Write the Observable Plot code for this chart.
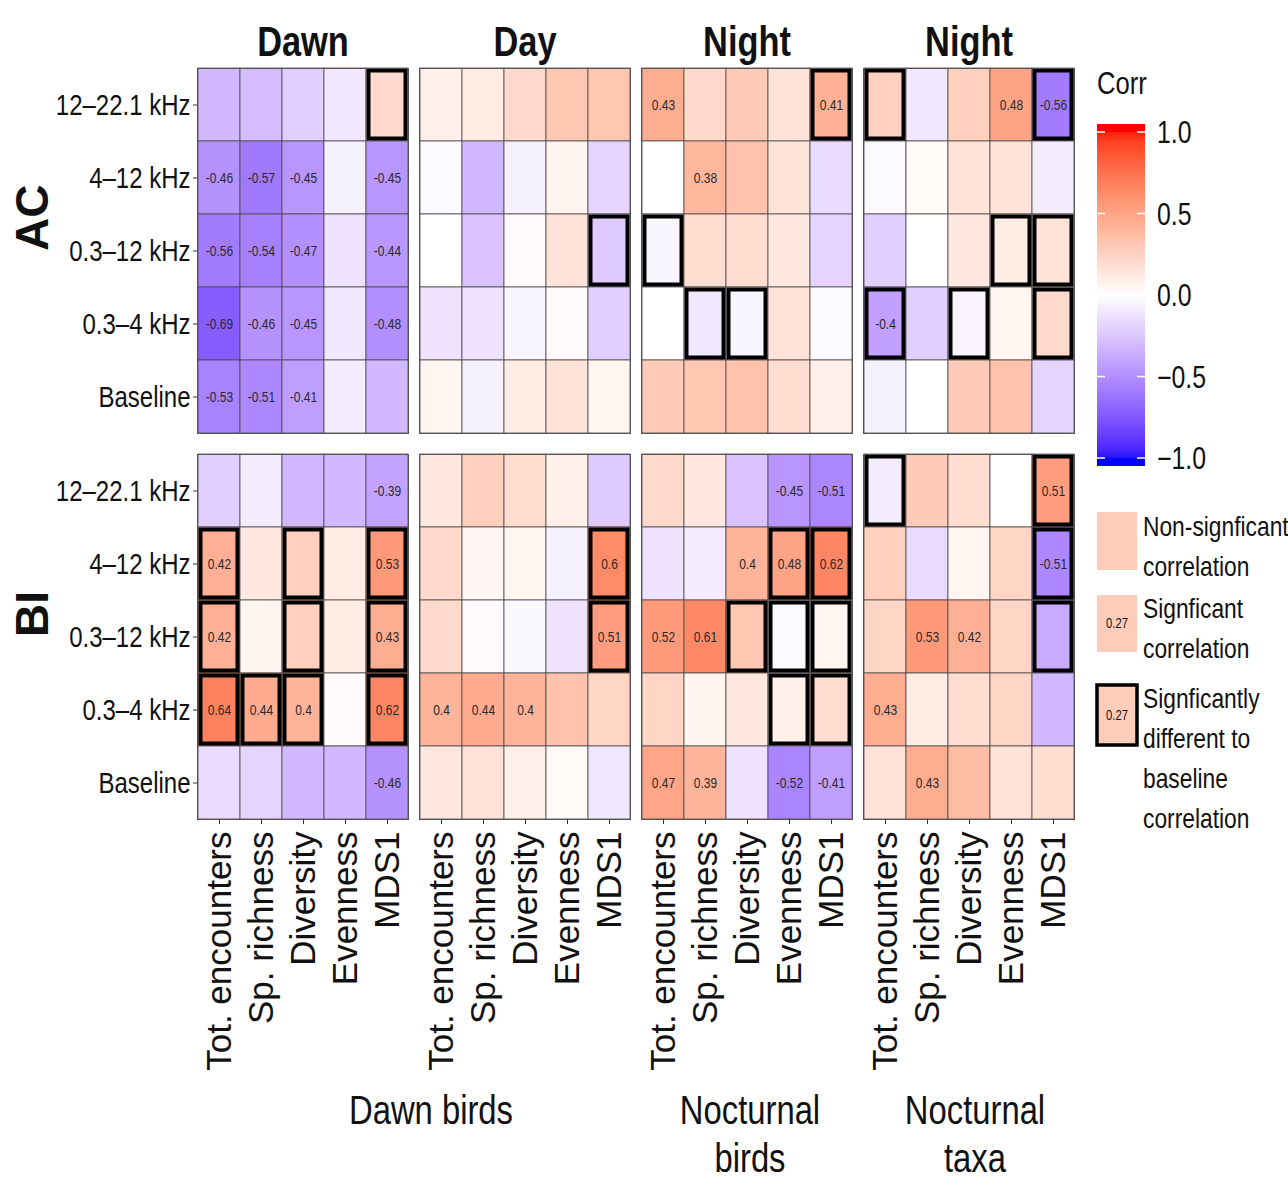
<!DOCTYPE html>
<html><head><meta charset="utf-8">
<script src="https://cdn.jsdelivr.net/npm/d3@7"></script>
<script src="https://cdn.jsdelivr.net/npm/@observablehq/plot@0.6"></script>
<style>
body{margin:0;background:#fff}
#root{position:relative;width:1288px;height:1187px;overflow:hidden;background:#fff}
#root svg{position:absolute;left:0;top:0}
</style></head><body><div id="root"></div>
<script>
const FONT = '"Liberation Sans",Arial,Helvetica,sans-serif';

// ---- categories ----
const panels = ["dawn", "day", "nightBirds", "nightTaxa"];
const panelTitles = ["Dawn", "Day", "Night", "Night"];
const indices = ["AC", "BI"];
const metrics = ["Tot. encounters", "Sp. richness", "Diversity", "Evenness", "MDS1"];
const bands = ["12–22.1 kHz", "4–12 kHz", "0.3–12 kHz", "0.3–4 kHz", "Baseline"];
const groupLabels = [["Dawn birds"], ["Nocturnal", "birds"], ["Nocturnal", "taxa"]];
const legendTicks = [1.0, 0.5, 0.0, -0.5, -1.0];
const legendExample = 0.27;

// ---- values: rows = bands, columns = metrics ----
const acDawn = [
  [-0.30, -0.28, -0.20, -0.10, 0.20],
  [-0.46, -0.57, -0.45, -0.06, -0.45],
  [-0.56, -0.54, -0.47, -0.12, -0.44],
  [-0.69, -0.46, -0.45, -0.10, -0.48],
  [-0.53, -0.51, -0.41, -0.08, -0.30]];
const acDay = [
  [0.08, 0.10, 0.20, 0.30, 0.30],
  [-0.02, -0.30, -0.06, 0.06, -0.18],
  [0.00, -0.25, 0.02, 0.15, -0.22],
  [-0.12, -0.12, -0.04, 0.02, -0.20],
  [0.05, -0.06, 0.10, 0.15, 0.05]];
const acNightBirds = [
  [0.43, 0.20, 0.28, 0.15, 0.41],
  [0.00, 0.38, 0.32, 0.15, -0.15],
  [-0.04, 0.18, 0.18, 0.12, -0.18],
  [0.00, -0.10, -0.04, 0.15, -0.02],
  [0.28, 0.30, 0.32, 0.18, 0.08]];
const acNightTaxa = [
  [0.25, -0.10, 0.25, 0.48, -0.56],
  [-0.02, 0.03, 0.15, 0.15, -0.08],
  [-0.20, 0.00, 0.12, 0.10, 0.15],
  [-0.40, -0.20, -0.05, 0.05, 0.20],
  [-0.06, 0.00, 0.28, 0.32, -0.18]];
const biDawn = [
  [-0.20, -0.08, -0.30, -0.30, -0.39],
  [0.42, 0.12, 0.25, 0.10, 0.53],
  [0.42, 0.06, 0.25, 0.10, 0.43],
  [0.64, 0.44, 0.40, 0.02, 0.62],
  [-0.15, -0.18, -0.30, -0.30, -0.46]];
const biDay = [
  [0.12, 0.25, 0.18, 0.08, -0.22],
  [0.20, 0.04, 0.05, -0.06, 0.60],
  [0.20, 0.02, -0.03, -0.12, 0.51],
  [0.40, 0.44, 0.40, 0.32, 0.22],
  [0.12, 0.15, 0.08, 0.03, -0.10]];
const biNightBirds = [
  [0.20, 0.12, -0.25, -0.45, -0.51],
  [-0.12, -0.08, 0.40, 0.48, 0.62],
  [0.52, 0.61, 0.30, -0.02, 0.05],
  [0.22, 0.06, 0.12, 0.08, 0.18],
  [0.47, 0.39, -0.12, -0.52, -0.41]];
const biNightTaxa = [
  [-0.08, 0.28, 0.18, 0.00, 0.51],
  [0.25, -0.15, 0.05, 0.22, -0.51],
  [0.22, 0.53, 0.42, 0.22, -0.35],
  [0.43, 0.10, 0.18, 0.22, -0.30],
  [0.15, 0.43, 0.35, 0.15, 0.18]];

// ---- significant correlation (value printed) ----
const acDawnSig = [[0,0,0,0,0],[1,1,1,0,1],[1,1,1,0,1],[1,1,1,0,1],[1,1,1,0,0]];
const acDaySig = [[0,0,0,0,0],[0,0,0,0,0],[0,0,0,0,0],[0,0,0,0,0],[0,0,0,0,0]];
const acNightBirdsSig = [[1,0,0,0,1],[0,1,0,0,0],[0,0,0,0,0],[0,0,0,0,0],[0,0,0,0,0]];
const acNightTaxaSig = [[0,0,0,1,1],[0,0,0,0,0],[0,0,0,0,0],[1,0,0,0,0],[0,0,0,0,0]];
const biDawnSig = [[0,0,0,0,1],[1,0,0,0,1],[1,0,0,0,1],[1,1,1,0,1],[0,0,0,0,1]];
const biDaySig = [[0,0,0,0,0],[0,0,0,0,1],[0,0,0,0,1],[1,1,1,0,0],[0,0,0,0,0]];
const biNightBirdsSig = [[0,0,0,1,1],[0,0,1,1,1],[1,1,0,0,0],[0,0,0,0,0],[1,1,0,1,1]];
const biNightTaxaSig = [[0,0,0,0,1],[0,0,0,0,1],[0,1,1,0,0],[1,0,0,0,0],[0,1,0,0,0]];

// ---- significantly different to baseline (bold outline) ----
const acDawnDiff = [[0,0,0,0,1],[0,0,0,0,0],[0,0,0,0,0],[0,0,0,0,0],[0,0,0,0,0]];
const acDayDiff = [[0,0,0,0,0],[0,0,0,0,0],[0,0,0,0,1],[0,0,0,0,0],[0,0,0,0,0]];
const acNightBirdsDiff = [[0,0,0,0,1],[0,0,0,0,0],[1,0,0,0,0],[0,1,1,0,0],[0,0,0,0,0]];
const acNightTaxaDiff = [[1,0,0,0,1],[0,0,0,0,0],[0,0,0,1,1],[1,0,1,0,1],[0,0,0,0,0]];
const biDawnDiff = [[0,0,0,0,0],[1,0,1,0,1],[1,0,1,0,1],[1,1,1,0,1],[0,0,0,0,0]];
const biDayDiff = [[0,0,0,0,0],[0,0,0,0,1],[0,0,0,0,1],[0,0,0,0,0],[0,0,0,0,0]];
const biNightBirdsDiff = [[0,0,0,0,0],[0,0,0,1,1],[0,0,1,1,1],[0,0,0,1,1],[0,0,0,0,0]];
const biNightTaxaDiff = [[1,0,0,0,1],[0,0,0,0,1],[0,0,0,0,1],[0,0,0,0,0],[0,0,0,0,0]];

const source = {
  AC: {dawn: [acDawn, acDawnSig, acDawnDiff], day: [acDay, acDaySig, acDayDiff],
       nightBirds: [acNightBirds, acNightBirdsSig, acNightBirdsDiff], nightTaxa: [acNightTaxa, acNightTaxaSig, acNightTaxaDiff]},
  BI: {dawn: [biDawn, biDawnSig, biDawnDiff], day: [biDay, biDaySig, biDayDiff],
       nightBirds: [biNightBirds, biNightBirdsSig, biNightBirdsDiff], nightTaxa: [biNightTaxa, biNightTaxaSig, biNightTaxaDiff]}
};

const rows = [];
for (const index of indices) for (const panel of panels) {
  const [v, s, d] = source[index][panel];
  bands.forEach((band, r) => metrics.forEach((metric, c) => {
    rows.push({index, panel, band, metric, value: v[r][c], sig: !!s[r][c], diff: !!d[r][c]});
  }));
}
const fmt = v => String(+v.toFixed(2));
const titles = panels.map((p, i) => ({panel: p, index: "AC", title: panelTitles[i]}));
const sideLabels = indices.map(i => ({index: i, panel: "dawn", label: i}));

const colorScale = {type: "linear", domain: [-1, 0, 1], range: ["blue", "white", "red"], interpolate: "lab"};

const chart = Plot.plot({
  width: 1288, height: 1085,
  marginLeft: 197, marginRight: 214, marginTop: 68, marginBottom: 266,
  style: {background: "transparent", fontFamily: FONT},
  fx: {domain: panels, paddingInner: 11 / 222, paddingOuter: 0, axis: null},
  fy: {domain: indices, paddingInner: 21 / 386, paddingOuter: 0, axis: null},
  x: {domain: metrics, padding: 0, axis: null},
  y: {domain: bands, padding: 0, axis: null},
  color: colorScale,
  marks: [
    Plot.cell(rows, {x: "metric", y: "band", fx: "panel", fy: "index", fill: "value", stroke: "#4a4a4a", strokeWidth: 0.8}),
    Plot.cell(rows.filter(d => d.diff), {x: "metric", y: "band", fx: "panel", fy: "index", fill: "none", stroke: "#000", strokeWidth: 4, inset: 2.5}),
    Plot.text(rows.filter(d => d.sig), {x: "metric", y: "band", fx: "panel", fy: "index", text: d => fmt(d.value), fontSize: 15, fill: "#2a2a2a"}),
    Plot.frame({stroke: "#555", strokeWidth: 1}),
    Plot.axisX({anchor: "bottom", tickRotate: -90, fontSize: 35, tickSize: 5, tickPadding: 7, stroke: "#333", fill: "#111", label: null}),
    Plot.axisY({anchor: "left", fontSize: 30, tickSize: 4, tickPadding: 3, stroke: "#333", fill: "#111", label: null}),
    Plot.text(titles, {fx: "panel", fy: "index", text: "title", frameAnchor: "top", dy: -13, lineAnchor: "bottom", fontSize: 43, fontWeight: "bold", fill: "#111"}),
    Plot.text(sideLabels, {fx: "panel", fy: "index", text: "label", frameAnchor: "left", dx: -164, rotate: -90, fontSize: 46, fontWeight: "bold", fill: "#111"})
  ]
});
const root = document.getElementById("root");
root.appendChild(chart);

// condense horizontal text (the reference typeface is narrow): scale about each text's anchor x
function condense(svgNode, factor) {
  svgNode.querySelectorAll("text").forEach(t => {
    const tr = t.getAttribute("transform") || "";
    if (tr.includes("rotate")) return;
    const x = +(t.getAttribute("x") || 0);
    t.setAttribute("transform", `${tr} translate(${x},0) scale(${factor},1) translate(${-x},0)`.trim());
  });
}
condense(chart, 0.8);

// ---- overlay: legend & group labels ----
const color = d3.scaleLinear().domain([-1, 0, 1]).range(["blue", "white", "red"]).interpolate(d3.interpolateLab);
const ov = d3.create("svg").attr("width", 1288).attr("height", 1187).style("font-family", FONT).attr("fill", "#111");
ov.append("text").attr("x", 1097).attr("y", 94).attr("font-size", 32).text("Corr");
const ly = d3.scaleLinear().domain([-1, 1]).range([458, 132]);
const grad = ov.append("defs").append("linearGradient").attr("id", "cbar").attr("x1", 0).attr("x2", 0).attr("y1", 1).attr("y2", 0);
d3.range(0, 1.0001, 0.05).forEach(t => grad.append("stop").attr("offset", t).attr("stop-color", color(-1 + 2 * t)));
ov.append("rect").attr("x", 1097).attr("y", ly(1) - 8).attr("width", 48).attr("height", ly(-1) - ly(1) + 16).attr("fill", "url(#cbar)");
ov.append("rect").attr("x", 1097).attr("y", ly(1) - 8).attr("width", 48).attr("height", 8).attr("fill", color(1));
ov.append("rect").attr("x", 1097).attr("y", ly(-1)).attr("width", 48).attr("height", 8).attr("fill", color(-1));
for (const t of legendTicks) {
  ov.append("line").attr("x1", 1097).attr("x2", 1105).attr("y1", ly(t)).attr("y2", ly(t)).attr("stroke", "#fff").attr("stroke-width", 1.5);
  ov.append("line").attr("x1", 1137).attr("x2", 1145).attr("y1", ly(t)).attr("y2", ly(t)).attr("stroke", "#fff").attr("stroke-width", 1.5);
  ov.append("text").attr("x", 1157).attr("y", ly(t)).attr("dy", "0.36em").attr("font-size", 31)
    .text(t < 0 ? "−" + Math.abs(t).toFixed(1) : t.toFixed(1));
}
const boxes = [
  {y: 512, h: 58, lines: ["Non-signficant", "correlation"], label: false, border: false, ty: 536},
  {y: 595, h: 57, lines: ["Signficant", "correlation"], label: true, border: false, ty: 618},
  {y: 685, h: 60, lines: ["Signficantly", "different to", "baseline", "correlation"], label: true, border: true, ty: 708}
];
boxes.forEach(b => {
  ov.append("rect").attr("x", 1097).attr("y", b.y).attr("width", 40).attr("height", b.h)
    .attr("fill", color(legendExample)).attr("stroke", b.border ? "#000" : "none").attr("stroke-width", b.border ? 3.5 : 0);
  if (b.label) ov.append("text").attr("x", 1117).attr("y", b.y + b.h / 2).attr("dy", "0.35em").attr("text-anchor", "middle").attr("font-size", 14).text(fmt(legendExample));
  b.lines.forEach((l, j) => ov.append("text").attr("x", 1143).attr("y", b.ty + j * 40).attr("font-size", 28.5).text(l));
});
const groupX = [431, 750, 975];
groupLabels.forEach((lines, i) => lines.forEach((l, j) =>
  ov.append("text").attr("x", groupX[i]).attr("y", 1124 + j * 48).attr("text-anchor", "middle").attr("font-size", 41).text(l)));
root.appendChild(ov.node());
condense(ov.node(), 0.8);
</script></body></html>
